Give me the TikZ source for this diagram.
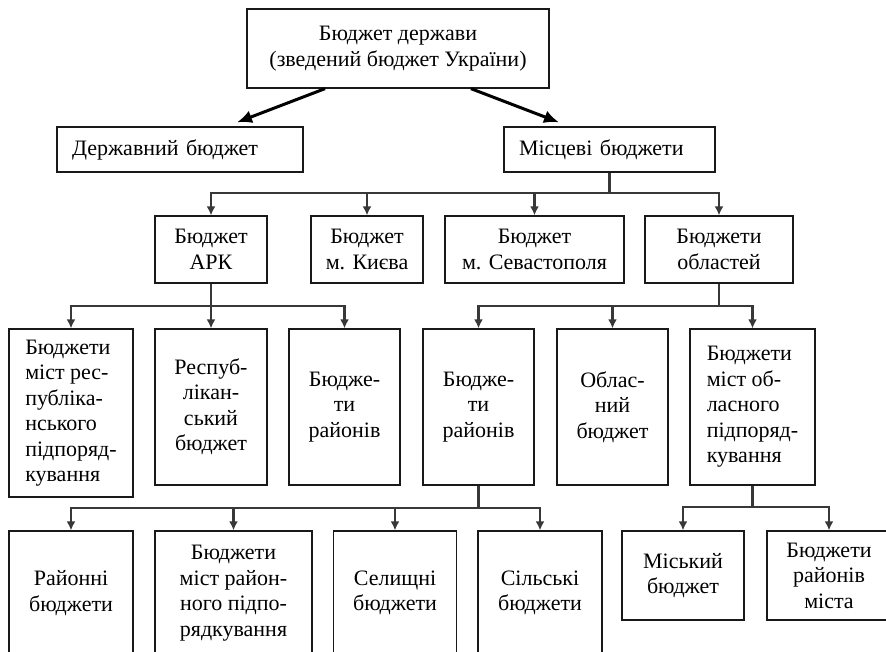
\documentclass[tikz,border=0pt]{standalone}
\usepackage{fontspec}
\setmainfont{Liberation Serif}
\usetikzlibrary{positioning, arrows.meta}

\tikzset{
    box/.style={draw=black!90, line width=1.3pt, inner sep=0pt, align=center,
        font=\fontsize{22}{25.5}\selectfont},
    lbox/.style={box, align=left, inner xsep=15pt},
    wire/.style={draw=black!78, line width=2.3pt, -{Latex[length=9pt,width=9pt]}},
    bigarrow/.style={draw=black, line width=3pt, -{Latex[length=15pt,width=13pt]}},
}

\begin{document}
\begin{tikzpicture}[x=1pt, y=-1pt]
    \useasboundingbox (0,0) rectangle (886,652);

    % top levels
    \node[box, minimum width=302pt, minimum height=79pt] (state) at (398,48.5) {Бюджет держави\\(зведений бюджет України)};
    \node[lbox, text width=216pt, minimum height=45pt] (derzh) at (180,149.5) {Державний бюджет};
    \node[lbox, text width=181pt, minimum height=45pt] (mis) at (609.5,149.5) {Місцеві бюджети};

    \node[box, minimum width=112pt, minimum height=67pt] (ark) at (211,249.5) {Бюджет\\АРК};
    \node[box, minimum width=112pt, minimum height=67pt] (kyiv) at (367,249.5) {Бюджет\\м. Києва};
    \node[box, minimum width=179pt, minimum height=67pt] (sev) at (534.5,249.5) {Бюджет\\м. Севастополя};
    \node[box, minimum width=148pt, minimum height=67pt] (obl) at (719,249.5) {Бюджети\\областей};

    % third row
    \node[box, align=left, minimum width=124pt, minimum height=168pt] (mistresp) at (71,413) {Бюджети\\міст рес-\\публіка-\\нського\\підпоряд-\\кування};
    \node[box, minimum width=112pt, minimum height=156pt] (resp) at (211,407) {Респуб-\\лікан-\\ський\\бюджет};
    \node[box, minimum width=111pt, minimum height=156pt] (rayark) at (344.5,407) {Бюдже-\\ти\\районів};
    \node[box, minimum width=111pt, minimum height=156pt] (rayobl) at (478.5,407) {Бюдже-\\ти\\районів};
    \node[box, minimum width=111pt, minimum height=156pt] (oblb) at (612.5,407) {Облас-\\ний\\бюджет};
    \node[box, align=left, minimum width=125pt, minimum height=156pt] (mistobl) at (752.5,407) {Бюджети\\міст об-\\ласного\\підпоряд-\\кування};

    % bottom row
    \node[box, minimum width=124pt, minimum height=124pt] (raionni) at (71,593) {Районні\\бюджети};
    \node[box, minimum width=157pt, minimum height=124pt] (mistray) at (233.5,593) {Бюджети\\міст район-\\ного підпо-\\рядкування};
    \node[box, minimum width=123pt, minimum height=124pt] (sel) at (395,593) {Селищні\\бюджети};
    \node[box, minimum width=124pt, minimum height=124pt] (sil) at (540,593) {Сільські\\бюджети};
    \node[box, minimum width=122pt, minimum height=89pt] (misk) at (683,575.5) {Міський\\бюджет};
    \node[box, minimum width=124pt, minimum height=89pt] (raymista) at (829,575.5) {Бюджети\\районів\\міста};

    % arrows
    \draw[bigarrow] ([xshift=-73pt]state.south) -- ([xshift=57pt,yshift=4pt]derzh.north);
    \draw[bigarrow] ([xshift=73pt]state.south) -- ([xshift=-50.5pt,yshift=4pt]mis.north);

    \coordinate (busmis) at (mis.south |- 0,193);
    \draw[wire, -] (mis.south) -- (busmis);
    \foreach \n in {ark, kyiv, sev, obl}
        \draw[wire] (busmis) -| (\n);

    \coordinate (busark) at (ark.south |- 0,306);
    \draw[wire, -] (ark.south) -- (busark);
    \foreach \n in {mistresp, resp, rayark}
        \draw[wire] (busark) -| (\n);

    \coordinate (busobl) at (obl.south |- 0,306);
    \draw[wire, -] (obl.south) -- (busobl);
    \foreach \n in {rayobl, oblb, mistobl}
        \draw[wire] (busobl) -| (\n);

    \coordinate (busray) at (rayobl.south |- 0,508);
    \draw[wire, -] (rayobl.south) -- (busray);
    \foreach \n in {raionni, mistray, sel, sil}
        \draw[wire] (busray) -| (\n);

    \coordinate (busmist) at (mistobl.south |- 0,507);
    \draw[wire, -] (mistobl.south) -- (busmist);
    \foreach \n in {misk, raymista}
        \draw[wire] (busmist) -| (\n);
\end{tikzpicture}
\end{document}
